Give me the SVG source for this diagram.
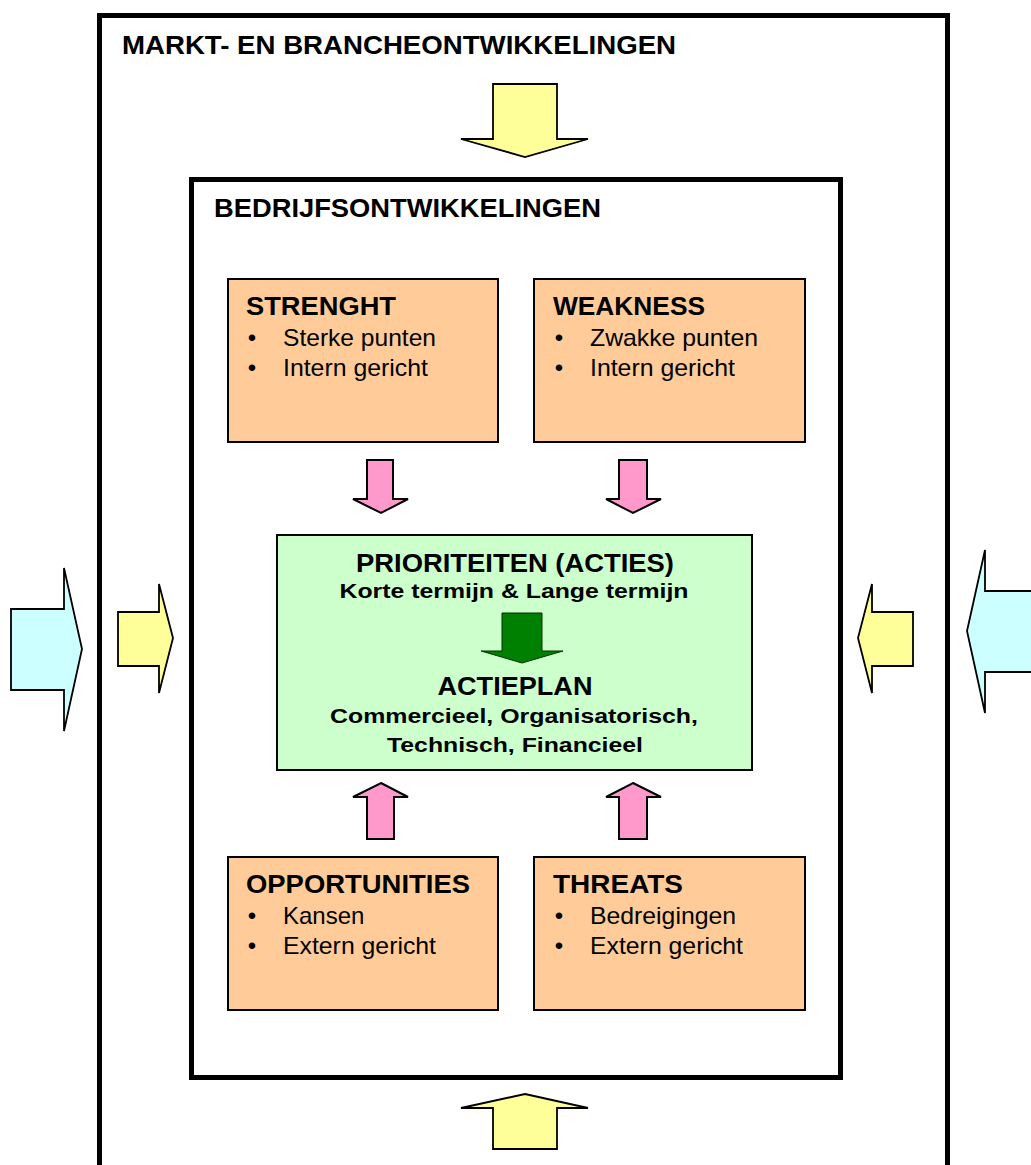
<svg xmlns="http://www.w3.org/2000/svg" width="1031" height="1165" viewBox="0 0 1031 1165">
<style>
  text { font-family: "Liberation Sans", Arial, sans-serif; fill: #000; }
  .h { font-size: 26px; font-weight: bold; }
  .t { font-size: 26px; font-weight: bold; }
  .b { font-size: 24px; }
  .g1 { font-size: 26px; font-weight: bold; text-anchor: middle; }
  .g2 { font-size: 20px; font-weight: bold; text-anchor: middle; }
  .bul { font-size: 24px; text-anchor: middle; }
  .frame { fill: #fff; stroke: #000; stroke-width: 5; }
  .swot { fill: #FFCC99; stroke: #000; stroke-width: 2; }
  .prio { fill: #CCFFCC; stroke: #000; stroke-width: 2; }
  .ay { fill: #FFFF99; stroke: #000; stroke-width: 1.8; }
  .ac { fill: #CCFFFF; stroke: #000; stroke-width: 1.8; }
  .ap { fill: #FF99CC; stroke: #000; stroke-width: 2; }
  .ag { fill: #008000; stroke: #003300; stroke-width: 1; }
</style>
<rect width="1031" height="1165" fill="#fff"/>

<g id="markt">
  <rect class="frame" x="99.5" y="15.5" width="848" height="1152"/>
  <text class="h" x="122" y="54" textLength="554" lengthAdjust="spacingAndGlyphs">MARKT- EN BRANCHEONTWIKKELINGEN</text>
</g>

<g id="bedrijf">
  <rect class="frame" x="191.5" y="179.5" width="649" height="898"/>
  <text class="h" x="214" y="217" textLength="387" lengthAdjust="spacingAndGlyphs">BEDRIJFSONTWIKKELINGEN</text>
</g>

<g id="strenght">
  <rect class="swot" x="228" y="279" width="270" height="163"/>
  <text class="t" x="246" y="315" textLength="150" lengthAdjust="spacingAndGlyphs">STRENGHT</text>
  <text class="bul" x="252" y="346">•</text>
  <text class="b" x="283" y="346" textLength="153" lengthAdjust="spacingAndGlyphs">Sterke punten</text>
  <text class="bul" x="252" y="376">•</text>
  <text class="b" x="283" y="376" textLength="145" lengthAdjust="spacingAndGlyphs">Intern gericht</text>
</g>

<g id="weakness">
  <rect class="swot" x="534" y="279" width="271" height="163"/>
  <text class="t" x="553" y="315" textLength="152" lengthAdjust="spacingAndGlyphs">WEAKNESS</text>
  <text class="bul" x="559" y="346">•</text>
  <text class="b" x="590" y="346" textLength="168" lengthAdjust="spacingAndGlyphs">Zwakke punten</text>
  <text class="bul" x="559" y="376">•</text>
  <text class="b" x="590" y="376" textLength="145" lengthAdjust="spacingAndGlyphs">Intern gericht</text>
</g>

<g id="opportunities">
  <rect class="swot" x="228" y="857" width="270" height="153"/>
  <text class="t" x="246" y="893" textLength="224" lengthAdjust="spacingAndGlyphs">OPPORTUNITIES</text>
  <text class="bul" x="252" y="924">•</text>
  <text class="b" x="283" y="924">Kansen</text>
  <text class="bul" x="252" y="954">•</text>
  <text class="b" x="283" y="954" textLength="153" lengthAdjust="spacingAndGlyphs">Extern gericht</text>
</g>

<g id="threats">
  <rect class="swot" x="534" y="857" width="271" height="153"/>
  <text class="t" x="553" y="893" textLength="130" lengthAdjust="spacingAndGlyphs">THREATS</text>
  <text class="bul" x="559" y="924">•</text>
  <text class="b" x="590" y="924" textLength="146" lengthAdjust="spacingAndGlyphs">Bedreigingen</text>
  <text class="bul" x="559" y="954">•</text>
  <text class="b" x="590" y="954" textLength="153" lengthAdjust="spacingAndGlyphs">Extern gericht</text>
</g>

<g id="prioriteiten">
  <rect class="prio" x="277" y="535" width="475" height="235"/>
  <text class="g1" x="515" y="572" textLength="318" lengthAdjust="spacingAndGlyphs">PRIORITEITEN (ACTIES)</text>
  <text class="g2" x="514" y="598" textLength="349" lengthAdjust="spacingAndGlyphs">Korte termijn &amp; Lange termijn</text>
  <polygon class="ag" points="502,613 542,613 542,651 563,651 522,663 481,651 502,651"/>
  <text class="g1" x="515" y="695" textLength="155" lengthAdjust="spacingAndGlyphs">ACTIEPLAN</text>
  <text class="g2" x="514" y="723" textLength="368" lengthAdjust="spacingAndGlyphs">Commercieel, Organisatorisch,</text>
  <text class="g2" x="515" y="752" textLength="256" lengthAdjust="spacingAndGlyphs">Technisch, Financieel</text>
</g>

<g id="connectors">
  <polygon class="ay" points="493,84 557,84 557,139 588,139 525,157 461,139 493,139"/>
  <polygon class="ay" points="525,1094 588,1108 557,1108 557,1149 493,1149 493,1108 461,1108"/>
  <polygon class="ac" points="11,609 64,609 64,568 82,649 64,731 64,690 11,690"/>
  <polygon class="ay" points="118,612 159,612 159,584 173,638 159,693 159,666 118,666"/>
  <polygon class="ay" points="858,638 872,584 872,612 913,612 913,666 872,666 872,693"/>
  <polygon class="ac" points="967,631 985,550 985,591 1040,591 1040,672 985,672 985,713"/>
  <polygon class="ap" points="367,460 393,460 393,499 408,499 381,513 353,499 367,499"/>
  <polygon class="ap" points="619,460 647,460 647,499 661,499 633,513 606,499 619,499"/>
  <polygon class="ap" points="381,783 408,797 394,797 394,839 367,839 367,797 353,797"/>
  <polygon class="ap" points="633,783 661,797 647,797 647,839 619,839 619,797 606,797"/>
</g>
</svg>
